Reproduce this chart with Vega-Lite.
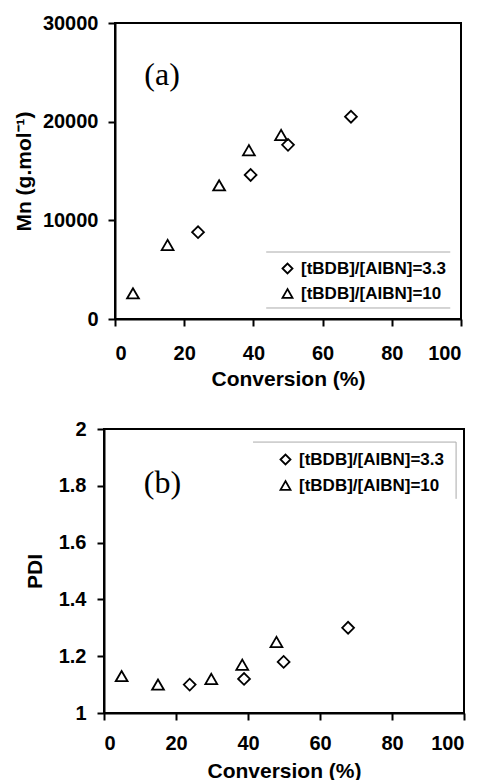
{
  "$schema": "https://vega.github.io/schema/vega-lite/v6.json",
  "background": "white",
  "padding": {"left": 11, "top": 12, "right": 0, "bottom": 0},
  "config": {
    "font": "Liberation Sans",
    "view": {"stroke": "black", "strokeWidth": 2},
    "axis": {
      "grid": false,
      "labelFont": "Liberation Sans", "labelFontWeight": "bold", "labelFontSize": 20, "labelColor": "black",
      "titleFont": "Liberation Sans", "titleFontWeight": "bold", "titleFontSize": 21, "titleColor": "black",
      "domainColor": "black", "domainWidth": 2, "tickColor": "black", "tickWidth": 2, "tickSize": 7
    },
    "legend": {
      "orient": "none", "padding": 0, "title": null,
      "labelFont": "Liberation Sans", "labelFontWeight": "bold", "labelFontSize": 17, "labelColor": "black",
      "symbolSize": 100, "symbolStrokeWidth": 1.8, "symbolStrokeColor": "black", "symbolFillColor": "transparent",
      "labelOffset": 5
    }
  },
  "datasets": {
    "mn": [
      {"conv": 24.0, "val": 8800, "series": "[tBDB]/[AIBN]=3.3"},
      {"conv": 39.2, "val": 14600, "series": "[tBDB]/[AIBN]=3.3"},
      {"conv": 50.0, "val": 17650, "series": "[tBDB]/[AIBN]=3.3"},
      {"conv": 68.2, "val": 20500, "series": "[tBDB]/[AIBN]=3.3"},
      {"conv": 5.2, "val": 2600, "series": "[tBDB]/[AIBN]=10"},
      {"conv": 15.2, "val": 7500, "series": "[tBDB]/[AIBN]=10"},
      {"conv": 30.1, "val": 13550, "series": "[tBDB]/[AIBN]=10"},
      {"conv": 38.7, "val": 17100, "series": "[tBDB]/[AIBN]=10"},
      {"conv": 48.0, "val": 18650, "series": "[tBDB]/[AIBN]=10"}
    ],
    "pdi": [
      {"conv": 23.8, "val": 1.10, "series": "[tBDB]/[AIBN]=3.3"},
      {"conv": 38.9, "val": 1.12, "series": "[tBDB]/[AIBN]=3.3"},
      {"conv": 49.9, "val": 1.18, "series": "[tBDB]/[AIBN]=3.3"},
      {"conv": 67.8, "val": 1.30, "series": "[tBDB]/[AIBN]=3.3"},
      {"conv": 4.9, "val": 1.13, "series": "[tBDB]/[AIBN]=10"},
      {"conv": 15.0, "val": 1.10, "series": "[tBDB]/[AIBN]=10"},
      {"conv": 29.8, "val": 1.12, "series": "[tBDB]/[AIBN]=10"},
      {"conv": 38.4, "val": 1.17, "series": "[tBDB]/[AIBN]=10"},
      {"conv": 47.9, "val": 1.25, "series": "[tBDB]/[AIBN]=10"}
    ],
    "labA": [{"x": 13.6, "y": 24730, "t": "(a)"}],
    "labB": [{"x": 16.25, "y": 1.81, "t": "(b)"}],
    "boxA": [
      {"x": 43.7, "x2": 96.9, "y": 6790, "y2": 6790},
      {"x": 43.7, "x2": 96.9, "y": 1115, "y2": 1115}
    ],
    "boxB": [
      {"x": 41.4, "x2": 97.8, "y": 1.954, "y2": 1.954},
      {"x": 97.8, "x2": 97.8, "y": 1.954, "y2": 1.754}
    ],
    "none": []
  },
  "vconcat": [
    {
      "spacing": 0,
      "resolve": {"scale": {"shape": "independent"}, "legend": {"shape": "independent"}},
      "hconcat": [
        {"width": 1, "height": 1, "data": {"name": "none"}, "mark": "point", "view": {"stroke": null}},
        {
          "width": 346, "height": 296,
          "layer": [
            {
              "data": {"name": "boxA"},
              "mark": {"type": "rule", "color": "#aaaaaa", "strokeWidth": 1},
              "encoding": {
                "x": {"field": "x", "type": "quantitative", "scale": {"domain": [0, 100]}},
                "x2": {"field": "x2"},
                "y": {"field": "y", "type": "quantitative", "scale": {"domain": [0, 30000]}},
                "y2": {"field": "y2"}
              }
            },
            {
              "data": {"name": "labA"},
              "mark": {"type": "text", "font": "Liberation Serif", "fontSize": 32, "align": "center", "baseline": "middle", "color": "black"},
              "encoding": {
                "x": {"field": "x", "type": "quantitative"},
                "y": {"field": "y", "type": "quantitative"},
                "text": {"field": "t"}
              }
            },
            {
              "data": {"name": "mn"},
              "mark": {"type": "point", "filled": false, "color": "black", "strokeWidth": 1.8, "size": 140, "opacity": 1},
              "encoding": {
                "x": {"field": "conv", "type": "quantitative", "scale": {"domain": [0, 100]},
                  "axis": {"title": "Conversion (%)", "values": [0, 20, 40, 60, 80, 100], "labelPadding": 17, "titlePadding": 5}},
                "y": {"field": "val", "type": "quantitative", "scale": {"domain": [0, 30000]},
                  "axis": {"title": "Mn (g.mol⁻¹)", "values": [0, 10000, 20000, 30000], "format": "d", "labelPadding": 10, "titlePadding": 8}},
                "shape": {"field": "series", "type": "nominal",
                  "scale": {"domain": ["[tBDB]/[AIBN]=3.3", "[tBDB]/[AIBN]=10"], "range": ["diamond", "triangle-up"]},
                  "legend": {"legendX": 164, "legendY": 237, "rowPadding": 6}}
              }
            }
          ]
        }
      ]
    },
    {
      "spacing": 0,
      "resolve": {"scale": {"shape": "independent"}, "legend": {"shape": "independent"}},
      "hconcat": [
        {"width": 12, "height": 1, "data": {"name": "none"}, "mark": "point", "view": {"stroke": null}},
        {
          "width": 360, "height": 284,
          "layer": [
            {
              "data": {"name": "boxB"},
              "mark": {"type": "rule", "color": "#aaaaaa", "strokeWidth": 1},
              "encoding": {
                "x": {"field": "x", "type": "quantitative", "scale": {"domain": [0, 100]}},
                "x2": {"field": "x2"},
                "y": {"field": "y", "type": "quantitative", "scale": {"domain": [1, 2]}},
                "y2": {"field": "y2"}
              }
            },
            {
              "data": {"name": "labB"},
              "mark": {"type": "text", "font": "Liberation Serif", "fontSize": 32, "align": "center", "baseline": "middle", "color": "black"},
              "encoding": {
                "x": {"field": "x", "type": "quantitative"},
                "y": {"field": "y", "type": "quantitative"},
                "text": {"field": "t"}
              }
            },
            {
              "data": {"name": "pdi"},
              "mark": {"type": "point", "filled": false, "color": "black", "strokeWidth": 1.8, "size": 140, "opacity": 1},
              "encoding": {
                "x": {"field": "conv", "type": "quantitative", "scale": {"domain": [0, 100]},
                  "axis": {"title": "Conversion (%)", "values": [0, 20, 40, 60, 80, 100], "labelPadding": 13, "titlePadding": 7}},
                "y": {"field": "val", "type": "quantitative", "scale": {"domain": [1, 2]},
                  "axis": {"title": "PDI", "values": [1, 1.2, 1.4, 1.6, 1.8, 2], "format": ".1~f", "labelPadding": 11, "titlePadding": 13}},
                "shape": {"field": "series", "type": "nominal",
                  "scale": {"domain": ["[tBDB]/[AIBN]=3.3", "[tBDB]/[AIBN]=10"], "range": ["diamond", "triangle-up"]},
                  "legend": {"legendX": 173, "legendY": 22, "rowPadding": 7}}
              }
            }
          ]
        }
      ]
    }
  ],
  "spacing": 28,
  "resolve": {"scale": {"shape": "independent"}, "legend": {"shape": "independent"}}
}
